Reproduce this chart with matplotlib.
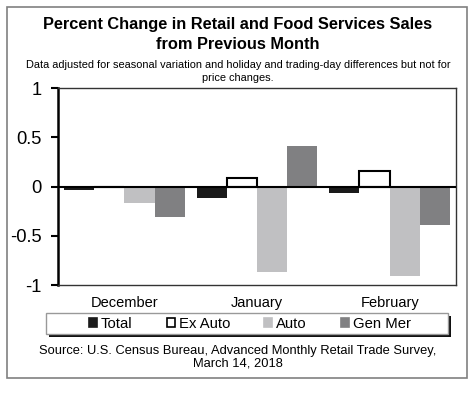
import numpy as np
import matplotlib.pyplot as plt
from matplotlib.patches import Patch, Rectangle

plt.rcParams['font.family'] = ['Liberation Sans', 'DejaVu Sans']
plt.rcParams['axes.unicode_minus'] = False

months = ["December", "January", "February"]
series = ["Total", "Ex Auto", "Auto", "Gen Mer"]
total = [-0.04, -0.115, -0.065]
ex_auto = [-0.01, 0.085, 0.155]
auto = [-0.17, -0.87, -0.91]
gen_mer = [-0.31, 0.41, -0.39]

values = [total, ex_auto, auto, gen_mer]
faces = ["#1a1a1a", "white", "#c0c0c2", "#808082"]
edges = ["#1a1a1a", "black", "#c0c0c2", "#808082"]

fig = plt.figure(figsize=(4.76, 3.96), dpi=100)
ax = fig.add_axes([58 / 476, 1 - 285 / 396, 398 / 476, 197 / 396])

x = np.arange(len(months))
w = 0.228
for i, (vals, fc, ec) in enumerate(zip(values, faces, edges)):
    lw = 1.5 if fc == "white" else 0
    ax.bar(x + (i - 1.5) * w, vals, w, color=fc, edgecolor=ec, linewidth=lw,
           zorder=2)

ax.axhline(0, color="black", lw=1.5, zorder=3)
ax.set_xlim(-0.5, 2.5)
ax.set_ylim(-1, 1)
ax.set_yticks([-1, -0.5, 0, 0.5, 1])
ax.set_yticklabels(["-1", "-0.5", "0", "0.5", "1"], fontsize=13.2)
ax.set_xticks(x)
ax.set_xticklabels(months, fontsize=10.5)
ax.tick_params(axis="x", length=0, pad=8)
ax.tick_params(axis="y", direction="out", length=5, width=1.5, pad=7)

for s in ["top", "right", "bottom"]:
    ax.spines[s].set_color("#333333")
    ax.spines[s].set_linewidth(1)
ax.spines["left"].set_linewidth(1.8)
ax.spines["left"].set_color("black")

# legend box drawn by hand (shadow + frame), legend itself without frame
lx, ly, lw_, lh = 46 / 476, 1 - 334 / 396, 402 / 476, 21 / 396
fig.patches.append(Rectangle((lx + 3 / 476, ly - 3 / 396), lw_, lh,
                             transform=fig.transFigure, facecolor="#111111",
                             edgecolor="none", zorder=1))
fig.patches.append(Rectangle((lx, ly), lw_, lh, transform=fig.transFigure,
                             facecolor="white", edgecolor="#999999", lw=1,
                             zorder=2))
handles = [Patch(facecolor=fc, edgecolor=("black" if fc == "white" else fc),
                 linewidth=1.2) for fc in faces]
fig.legend(handles, series, loc="center", ncol=4, frameon=False,
           bbox_to_anchor=(250 / 476, 1 - 323.5 / 396),
           fontsize=10.7, handlelength=0.55, handleheight=0.55,
           handletextpad=0.25, columnspacing=2.3, borderpad=0)

fig.text(0.5, 1 - 34.5 / 396,
         "Percent Change in Retail and Food Services Sales\nfrom Previous Month",
         ha="center", va="center", fontsize=11.8, fontweight="bold",
         linespacing=1.35)
fig.text(0.5, 1 - 71.5 / 396,
         "Data adjusted for seasonal variation and holiday and trading-day differences but not for\nprice changes.",
         ha="center", va="center", fontsize=7.9, linespacing=1.4)
fig.text(0.5, 1 - 357 / 396,
         "Source: U.S. Census Bureau, Advanced Monthly Retail Trade Survey,\nMarch 14, 2018",
         ha="center", va="center", fontsize=9.3, linespacing=1.1)

# outer frame
fig.patches.append(Rectangle((7 / 476, 1 - 378 / 396), 460 / 476, 371 / 396,
                             transform=fig.transFigure, fill=False,
                             edgecolor="#808080", lw=1.2))

plt.savefig("out.png", dpi=100)
